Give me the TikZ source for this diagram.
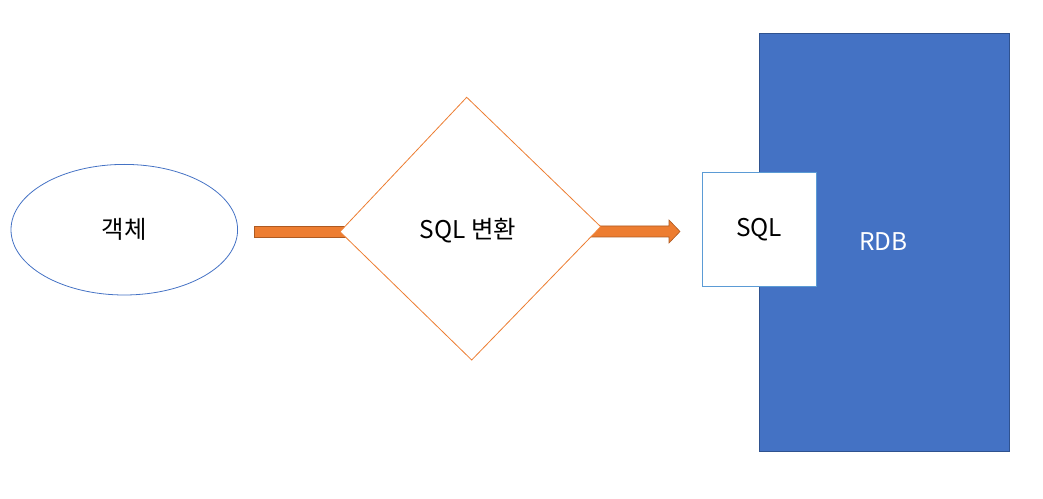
\documentclass[tikz,border=0pt]{standalone}
\usepackage{fontspec}
\setmainfont{Noto Sans CJK KR}
\usetikzlibrary{shapes.geometric,calc}
\definecolor{oran}{HTML}{ED7D31}
\definecolor{orandk}{HTML}{AE5A21}
\definecolor{blu}{HTML}{4472C4}
\definecolor{bludk}{HTML}{2F528F}
\definecolor{ltblu}{HTML}{5B9BD5}
\tikzset{
  lbl/.style={font=\fontsize{24.5}{27}\selectfont, inner sep=0pt},
  blockarrow/.style={fill=oran, draw=orandk, line width=0.6pt},
}
\begin{document}
\begin{tikzpicture}[x=1bp,y=-1bp]
\useasboundingbox (0,0) rectangle (1043,499);
% RDB
\node[draw=bludk, fill=blu, line width=0.8pt, minimum width=250bp, minimum height=418bp, inner sep=0pt] (rdb) at (884.3,242.2) {};
\node[lbl, text=white] (rdbt) at (883.5,242) {RDB};
% SQL box
\node[draw=ltblu, fill=white, line width=0.8pt, minimum width=114bp, minimum height=114bp, inner sep=0pt] (sqlbox) at (759.3,229.7) {};
\node[lbl] (sqlt) at (759,230) {SQL};
% ellipse
\draw[blu, line width=0.8pt] (124.3,229.7) ellipse [x radius=113.3, y radius=65.3];
\coordinate (ell) at (124.3,229.7);
\node[lbl] (objt) at (124,229) {객체};
% arrows (behind diamond)
\coordinate (a1s) at (254,226);
\coordinate (a2s) at (590,226);
\coordinate (a2t) at (680,231.5);
\draw[blockarrow] (a1s) rectangle (360,237);
\draw[blockarrow] (a2s) -- (669,226) -- (669,220) -- (a2t) -- (669,243) -- (669,237) -- (590,237) -- cycle;
% diamond
\coordinate (dT) at (466.7,97.3);
\coordinate (dR) at (600.7,226.7);
\coordinate (dB) at (471.7,360);
\coordinate (dL) at (340,231.7);
\draw[oran, fill=white, line width=0.8pt, line join=miter] (dT) -- (dR) -- (dB) -- (dL) -- cycle;
\node[lbl] (convt) at (468,231) {SQL 변환};
\end{tikzpicture}
\end{document}
